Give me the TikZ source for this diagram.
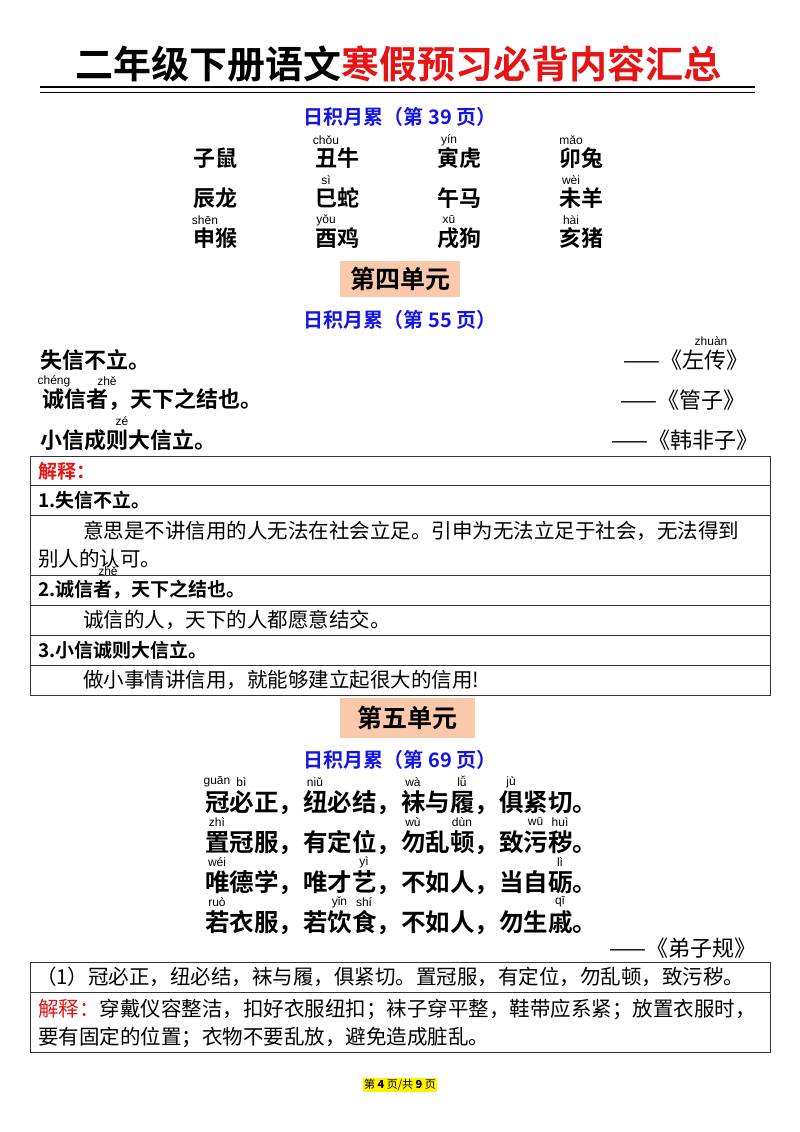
\documentclass[tikz,border=0pt]{standalone}
\usepackage{fontspec}
\setmainfont{Noto Sans CJK SC}
\newfontfamily\cjkb{Noto Sans CJK SC Bold}
\newfontfamily\py{Liberation Sans}
\definecolor{tred}{RGB}{230,20,20}
\definecolor{tblue}{RGB}{20,20,230}
\definecolor{peach}{RGB}{250,200,170}
\begin{document}
\begin{tikzpicture}[x=1pt,y=-1pt,
  every node/.style={inner sep=0pt,outer sep=0pt},
  big/.style={font=\cjkb\fontsize{22}{24}\selectfont,anchor=west},
  auth/.style={font=\fontsize{22}{24}\selectfont,anchor=east},
  pin/.style={font=\py\fontsize{12}{13}\selectfont},
  hd/.style={font=\cjkb\fontsize{20}{22}\selectfont,text=tblue},
  body/.style={font=\fontsize{20.5}{26}\selectfont,anchor=west},
  bodyb/.style={font=\cjkb\fontsize{19}{22}\selectfont,anchor=west},
  cls/.style={font=\cjkb\fontsize{24.5}{26}\selectfont,anchor=west},
  tb/.style={draw=black!80,line width=0.6pt}]
\useasboundingbox[fill=white] (0,0) rectangle (800,1132);
% title
\node (title) at (398,64) {\cjkb\fontsize{38}{40}\selectfont 二年级下册语文\textcolor{tred}{寒假预习必背内容汇总}};
\draw[line width=2pt] (40,87) -- (755,87);
\draw[line width=0.6pt] (40,92) -- (755,92);
\node[hd] (h1) at (400,117) {日积月累（第 39 页）};
% zodiac
\node[big] (z1) at (193,158) {子鼠};
\node[big] (z2) at (315,158) {丑牛};
\node[big] (z3) at (437,158) {寅虎};
\node[big] (z4) at (559,158) {卯兔};
\node[big] (z5) at (193,198) {辰龙};
\node[big] (z6) at (315,198) {巳蛇};
\node[big] (z7) at (437,198) {午马};
\node[big] (z8) at (559,198) {未羊};
\node[big] (z9) at (193,238) {申猴};
\node[big] (z10) at (315,238) {酉鸡};
\node[big] (z11) at (437,238) {戌狗};
\node[big] (z12) at (559,238) {亥猪};
\node[pin] (p1) at (326,140) {chǒu};
\node[pin] (p2) at (449,140) {yín};
\node[pin] (p3) at (571,140) {mǎo};
\node[pin] (p4) at (326,180) {sì};
\node[pin] (p5) at (571,180) {wèi};
\node[pin] (p6) at (205,220) {shēn};
\node[pin] (p7) at (326,220) {yǒu};
\node[pin] (p8) at (449,220) {xū};
\node[pin] (p9) at (571,220) {hài};
% unit 4
\node[fill=peach,minimum width=120,minimum height=36,font=\cjkb\fontsize{25}{27}\selectfont] (u4) at (400,279) {第四单元};
\node[hd] (h2) at (400,320) {日积月累（第 55 页）};
\node[big] (s1) at (40,360) {失信不立。};
\node[auth] (a1) at (748,360) {——《左传》};
\node[pin] (p10) at (711,341) {zhuàn};
\node[big] (s2) at (42,400) {诚信者，天下之结也。};
\node[auth] (a2) at (745,400) {——《管子》};
\node[pin] (p11) at (54,381) {chéng};
\node[pin] (p12) at (107,381) {zhě};
\node[big] (s3) at (40,440) {小信成则大信立。};
\node[auth] (a3) at (758,440) {——《韩非子》};
\node[pin] (p13) at (122,421) {zé};
% table 1
\draw[tb] (30,456) rectangle (770,695);
\foreach \y in {485,515,575,605,635,665} \draw[tb] (30,\y) -- (770,\y);
\node[bodyb,text=tred] (t1) at (38,471) {解释：};
\node[bodyb] (t2) at (38,500) {1.失信不立。};
\node[body] (t3) at (83,531) {意思是不讲信用的人无法在社会立足。引申为无法立足于社会，无法得到};
\node[body] (t4) at (38,559) {别人的认可。};
\node[pin] (p14) at (108,571) {zhě};
\node[bodyb] (t5) at (38,590) {2.诚信者，天下之结也。};
\node[body] (t6) at (83,620) {诚信的人，天下的人都愿意结交。};
\node[bodyb] (t7) at (38,650) {3.小信诚则大信立。};
\node[body] (t8) at (83,680) {做小事情讲信用，就能够建立起很大的信用!};
% unit 5
\node[fill=peach,minimum width=135,minimum height=40,font=\cjkb\fontsize{25}{27}\selectfont] (u5) at (407,718) {第五单元};
\node[hd] (h3) at (400,760) {日积月累（第 69 页）};
\node[cls] (c1) at (205,803) {冠必正，纽必结，袜与履，俱紧切。};
\node[cls] (c2) at (205,843) {置冠服，有定位，勿乱顿，致污秽。};
\node[cls] (c3) at (205,883) {唯德学，唯才艺，不如人，当自砺。};
\node[cls] (c4) at (205,923) {若衣服，若饮食，不如人，勿生戚。};
\foreach \t/\i/\y in {guān/0/782,bì/1/782,niǔ/4/782,wà/8/782,lǚ/10/781,jù/12/782,
  zhì/0/822,wù/8/822,dùn/10/822,wū/13/822,huì/14/822,
  wéi/0/862,yì/6/862,lì/14/862,
  ruò/0/902,yǐn/5/902,shí/6/902,qī/14/902}
  \node[pin] at (217+24.5*\i,\y) {\t};
\node[auth] (a4) at (756,948) {——《弟子规》};
% table 2
\draw[tb] (30,962) rectangle (770,1052);
\draw[tb] (30,992) -- (770,992);
\node[body] (q1) at (36,977) {（1）冠必正，纽必结，袜与履，俱紧切。置冠服，有定位，勿乱顿，致污秽。};
\node[body] (q2) at (38,1009) {\textcolor{tred}{解释：}穿戴仪容整洁，扣好衣服纽扣；袜子穿平整，鞋带应系紧；放置衣服时，};
\node[body] (q3) at (38,1037) {要有固定的位置；衣物不要乱放，避免造成脏乱。};
% footer
\node[fill=yellow,inner sep=1.5pt,font=\fontsize{11}{12}\selectfont] (ft) at (400,1085) {第 \textbf{4} 页/共 \textbf{9} 页};
\end{tikzpicture}
\end{document}
